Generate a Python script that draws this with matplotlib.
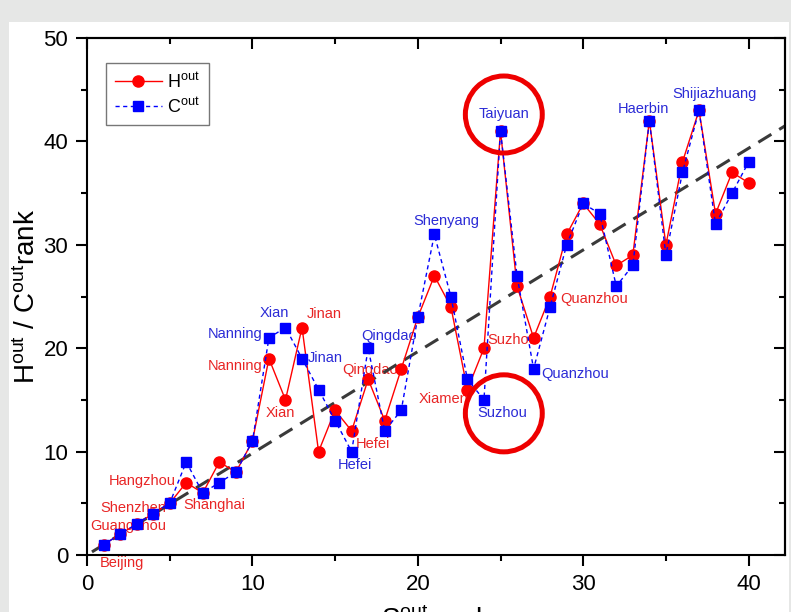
import matplotlib
matplotlib.use("Agg")
import matplotlib.pyplot as plt
from matplotlib.patches import Ellipse, Rectangle
from matplotlib.ticker import MultipleLocator

plt.rcParams['font.family'] = ['Liberation Sans', 'DejaVu Sans']
plt.rcParams['mathtext.fontset'] = 'custom'
plt.rcParams['mathtext.rm'] = 'Liberation Sans'
plt.rcParams['mathtext.it'] = 'Liberation Sans'

# ---------------- data ----------------
s_rank = list(range(1, 41))
h_rank = [1, 2, 3, 4, 5, 7, 6, 9, 8, 11,
          19, 15, 22, 10, 14, 12, 17, 13, 18, 23,
          27, 24, 16, 20, 41, 26, 21, 25, 31, 34,
          32, 28, 29, 42, 30, 38, 43, 33, 37, 36]
c_rank = [1, 2, 3, 4, 5, 9, 6, 7, 8, 11,
          21, 22, 19, 16, 13, 10, 20, 12, 14, 23,
          31, 25, 17, 15, 41, 27, 18, 24, 30, 34,
          33, 26, 28, 42, 29, 37, 43, 32, 35, 38]

fit_x = [0.3, 42.2]
fit_y = [0.3, 41.5]

h_labels = ["Beijing", "Guangzhou", "Shenzhen", "Hangzhou", "Shanghai", "Xian",
            "Nanning", "Jinan", "Qingdao", "Hefei", "Xiamen", "Suzhou", "Quanzhou"]
h_label_x = [2.11, 2.48, 2.78, 3.32, 7.67, 11.72, 8.94, 14.32, 17.10, 17.28, 21.57, 25.74, 30.63]
h_label_y = [-0.77, 2.80, 4.55, 7.16, 4.84, 13.73, 18.28, 23.31, 17.89, 10.74, 15.09, 20.79, 24.76]

c_labels = ["Nanning", "Xian", "Jinan", "Qingdao", "Hefei", "Shenyang", "Suzhou",
            "Quanzhou", "Taiyuan", "Haerbin", "Shijiazhuang"]
c_label_x = [8.94, 11.30, 14.38, 18.25, 16.19, 21.75, 25.08, 29.49, 25.20, 33.66, 37.95]
c_label_y = [21.37, 23.40, 19.05, 21.18, 8.70, 32.30, 13.73, 17.50, 42.65, 43.13, 44.58]

highlight_x = [25.2, 25.2]
highlight_y = [42.6, 13.7]

x_ticks = [0, 10, 20, 30, 40]
y_ticks = [0, 10, 20, 30, 40, 50]

# ---------------- figure ----------------
W, H = 791, 612
fig = plt.figure(figsize=(W / 100, H / 100), dpi=100, facecolor='#e6e7e6')
fig.patches.append(Rectangle((9 / W, 0), (789 - 9) / W, (H - 22) / H,
                             transform=fig.transFigure, facecolor='white',
                             edgecolor='none', zorder=-10))

ax = fig.add_axes([87 / W, 1 - 555 / H, (785 - 87) / W, (555 - 38) / H])
ax.set_facecolor('white')
ax.patch.set_alpha(0)

red = '#ff0000'
blue = '#0000ff'
red_txt = '#e82525'
blue_txt = '#2b2bd6'

ax.plot(fit_x, fit_y, color='#3a3a3a', lw=2.2, dashes=(5, 3), zorder=2)

ax.plot(s_rank, h_rank, color=red, lw=1.0, marker='o', ms=8,
        mfc=red, mec=red, zorder=3, label='H$^{\\mathrm{out}}$')
ax.plot(s_rank, c_rank, color=blue, lw=1.0, ls=(0, (3, 2.5)), marker='s', ms=7.5,
        mfc=blue, mec=blue, zorder=4, label='C$^{\\mathrm{out}}$')

for t, x, y in zip(h_labels, h_label_x, h_label_y):
    ax.text(x, y, t, color=red_txt, fontsize=10.5, ha='center', va='center', zorder=1.5)
for t, x, y in zip(c_labels, c_label_x, c_label_y):
    ax.text(x, y, t, color=blue_txt, fontsize=10.5, ha='center', va='center', zorder=1.5)

for x, y in zip(highlight_x, highlight_y):
    ax.add_patch(Ellipse((x, y), 4.65, 7.45, fill=False, edgecolor='#ee0000',
                         lw=3.6, zorder=6))

ax.set_xlim(0, 42.2)
ax.set_ylim(0, 50)
ax.set_xticks(x_ticks)
ax.set_yticks(y_ticks)
ax.xaxis.set_minor_locator(MultipleLocator(5))
ax.yaxis.set_minor_locator(MultipleLocator(5))
ax.tick_params(which='both', direction='out', width=1.5, labelsize=16, pad=5.5)
ax.tick_params(which='major', length=8)
ax.tick_params(which='minor', length=4.5)
for sp in ax.spines.values():
    sp.set_linewidth(1.5)

# inward ticks on top and right
ax2 = ax.secondary_xaxis('top')
ax2.set_xticks(x_ticks)
ax2.xaxis.set_minor_locator(MultipleLocator(5))
ax2.tick_params(which='both', direction='in', width=1.5, labeltop=False)
ax2.tick_params(which='major', length=8)
ax2.tick_params(which='minor', length=4.5)
ax2.spines['top'].set_linewidth(1.5)
ax3 = ax.secondary_yaxis('right')
ax3.set_yticks(y_ticks)
ax3.yaxis.set_minor_locator(MultipleLocator(5))
ax3.tick_params(which='both', direction='in', width=1.5, labelright=False)
ax3.tick_params(which='major', length=8)
ax3.tick_params(which='minor', length=4.5)
ax3.spines['right'].set_linewidth(1.5)

ax.set_ylabel('H$^{\\mathrm{out}}$ / C$^{\\mathrm{out}}$rank', fontsize=20, labelpad=2)
ax.set_xlabel('S$^{\\mathrm{out}}$ rank', fontsize=20, labelpad=8)

leg = ax.legend(loc='upper left', bbox_to_anchor=(0.027, 0.952), borderaxespad=0,
                fontsize=13, frameon=True, fancybox=False, edgecolor='#555555',
                handlelength=2.6, numpoints=1, borderpad=0.5, labelspacing=0.3,
                handletextpad=0.3)
leg.get_frame().set_linewidth(1.0)

fig.savefig('out.png', dpi=100, facecolor=fig.get_facecolor())
